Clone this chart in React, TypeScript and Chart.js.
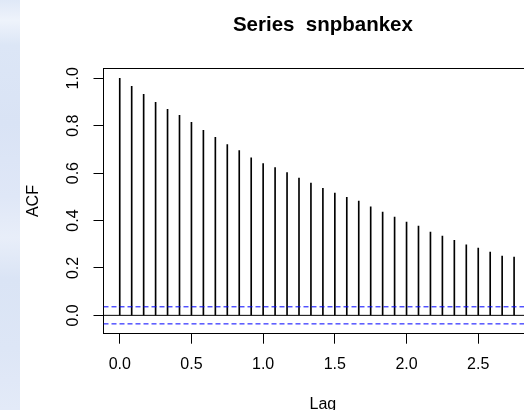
import React, { useEffect, useRef } from "react";
import { Chart, registerables } from "chart.js";

Chart.register(...registerables);

// ---- data ----
const lags = [
  0.0, 0.0833, 0.1667, 0.25, 0.3333, 0.4167, 0.5, 0.5833, 0.6667, 0.75, 0.8333, 0.9167,
  1.0, 1.0833, 1.1667, 1.25, 1.3333, 1.4167, 1.5, 1.5833, 1.6667, 1.75, 1.8333, 1.9167,
  2.0, 2.0833, 2.1667, 2.25, 2.3333, 2.4167, 2.5, 2.5833, 2.6667, 2.75,
];
const acfValues = [
  1.0, 0.966, 0.932, 0.899, 0.869, 0.844, 0.814, 0.781, 0.751, 0.72, 0.695, 0.665,
  0.64, 0.623, 0.602, 0.579, 0.558, 0.536, 0.516, 0.498, 0.482, 0.458, 0.436, 0.415,
  0.393, 0.377, 0.351, 0.334, 0.317, 0.297, 0.284, 0.267, 0.25, 0.246,
];
const ciBound = 0.036;
const xRange = [-0.1133, 2.9467];
const yRange = [-0.0774, 1.0414];
const xTickStep = 0.5;
const yTickStep = 0.2;
const chartTitle = "Series  snpbankex";
const xAxisLabel = "Lag";
const yAxisLabel = "ACF";

const FONT = "'Liberation Sans', Arial, Helvetica, sans-serif";

export default function App() {
  const canvasRef = useRef<HTMLCanvasElement | null>(null);

  useEffect(() => {
    const canvas = canvasRef.current;
    if (!canvas) return;
    const chart = new Chart(canvas, {
      type: "bar",
      data: {
        datasets: [
          {
            type: "bar",
            data: lags.map((l, i) => ({ x: l, y: acfValues[i] })),
            backgroundColor: "#000000",
            borderWidth: 0,
            barThickness: 1,
            order: 2,
          } as any,
          {
            type: "line",
            data: [
              { x: xRange[0], y: 0 },
              { x: xRange[1], y: 0 },
            ],
            borderColor: "#000000",
            borderWidth: 1,
            pointRadius: 0,
            order: 1,
          } as any,
          {
            type: "line",
            data: [
              { x: xRange[0], y: ciBound },
              { x: xRange[1], y: ciBound },
            ],
            borderColor: "#0000ff",
            borderWidth: 1,
            borderDash: [5, 3],
            pointRadius: 0,
            order: 0,
          } as any,
          {
            type: "line",
            data: [
              { x: xRange[0], y: -ciBound },
              { x: xRange[1], y: -ciBound },
            ],
            borderColor: "#0000ff",
            borderWidth: 1,
            borderDash: [5, 3],
            pointRadius: 0,
            order: 0,
          } as any,
        ],
      },
      options: {
        animation: false,
        responsive: false,
        devicePixelRatio: 1,
        events: [],
        layout: { padding: { left: 0, top: 0, right: 17.7, bottom: 0 } },
        plugins: {
          legend: { display: false },
          tooltip: { enabled: false },
          title: {
            display: true,
            text: chartTitle,
            fullSize: false,
            color: "#000000",
            font: { family: FONT, size: 20.5, weight: "bold", lineHeight: 1.2 },
            padding: { top: 13, bottom: 30.9 },
          },
        },
        scales: {
          x: {
            type: "linear",
            position: "bottom",
            min: xRange[0],
            max: xRange[1],
            offset: false,
            afterFit: (s: any) => {
              s.height = 76.3;
            },
            grid: {
              display: true,
              offset: false,
              drawOnChartArea: false,
              drawTicks: true,
              tickLength: 10,
              color: "#000000",
              lineWidth: 1,
            },
            border: { display: true, color: "#000000", width: 1 },
            ticks: {
              stepSize: xTickStep,
              includeBounds: false,
              autoSkip: false,
              maxRotation: 0,
              color: "#000000",
              padding: 11.2,
              font: { family: FONT, size: 16 },
              callback: (v: any) => Number(v).toFixed(1),
            },
            title: {
              display: true,
              text: xAxisLabel,
              color: "#000000",
              font: { family: FONT, size: 16 },
              padding: { top: 0, bottom: -4.1 },
            },
          },
          x2: {
            type: "linear",
            position: "top",
            min: xRange[0],
            max: xRange[1],
            afterFit: (s: any) => {
              s.height = 0;
            },
            grid: { display: false },
            ticks: { display: false },
            border: { display: true, color: "#000000", width: 1 },
          },
          y: {
            type: "linear",
            position: "left",
            min: yRange[0],
            max: yRange[1],
            afterFit: (s: any) => {
              s.width = 103.5;
            },
            grid: {
              display: true,
              drawOnChartArea: false,
              drawTicks: true,
              tickLength: 10,
              color: "#000000",
              lineWidth: 1,
            },
            border: { display: true, color: "#000000", width: 1 },
            ticks: {
              stepSize: yTickStep,
              includeBounds: false,
              autoSkip: false,
              minRotation: 90,
              maxRotation: 90,
              crossAlign: "center",
              color: "#000000",
              padding: 8.6,
              font: { family: FONT, size: 16 },
              callback: (v: any) => Number(v).toFixed(1),
            },
            title: {
              display: true,
              text: yAxisLabel,
              color: "#000000",
              font: { family: FONT, size: 16 },
              padding: { top: 23.8, bottom: 0 },
            },
          },
          y2: {
            type: "linear",
            position: "right",
            min: yRange[0],
            max: yRange[1],
            afterFit: (s: any) => {
              s.width = 0;
            },
            grid: { display: false },
            ticks: { display: false },
            border: { display: true, color: "#000000", width: 1 },
          },
        },
      } as any,
    });
    return () => chart.destroy();
  }, []);

  return (
    <div
      style={{
        position: "fixed",
        left: 0,
        top: 0,
        width: 524,
        height: 410,
        overflow: "hidden",
        background: "#ffffff",
      }}
    >
      <div
        style={{
          position: "absolute",
          left: 0,
          top: 0,
          width: 20,
          height: 410,
          background:
            "linear-gradient(180deg, #dfe8f7 0%, #eef3fb 5%, #dce6f6 11%, #d9e3f5 30%, #dfe7f7 48%, #e8eef9 58%, #dae4f5 68%, #dde6f6 85%, #e3eaf8 100%)",
        }}
      />
      <canvas
        ref={canvasRef}
        width={560}
        height={410}
        style={{ position: "absolute", left: 0, top: 0, width: 560, height: 410 }}
      />
    </div>
  );
}
